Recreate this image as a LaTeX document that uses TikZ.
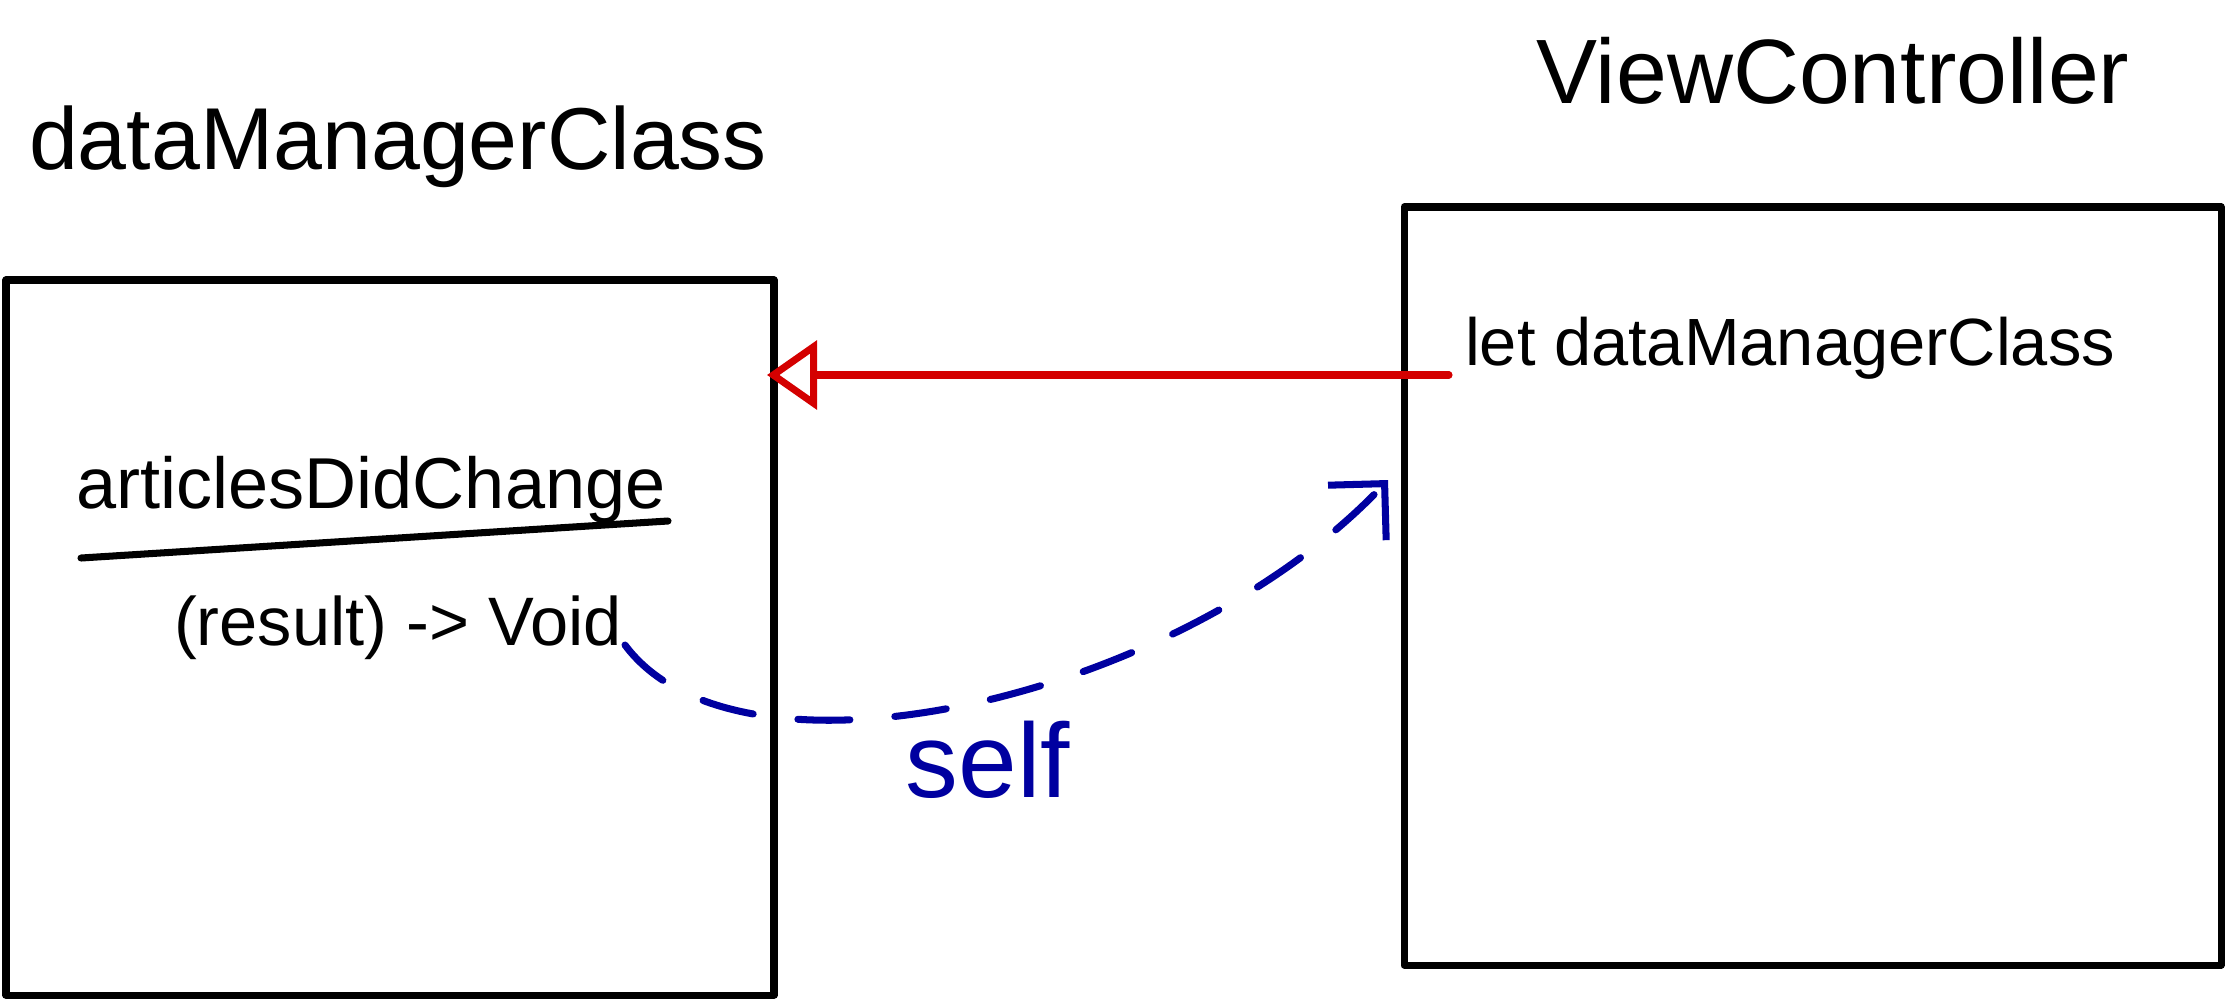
\documentclass[tikz,border=0pt]{standalone}
\usepackage{fontspec}
\setmainfont{Liberation Sans}
\usetikzlibrary{arrows.meta}
\definecolor{penred}{HTML}{D40000}
\definecolor{penblue}{HTML}{0000A0}
\begin{document}
\begin{tikzpicture}[x=0.01cm,y=-0.01cm,
  pen/.style={line width=2pt,line cap=round,line join=round},
  classbox/.style={draw,pen,inner sep=0pt},
  hand/.style={inner sep=0pt,font=\fontsize{#1}{#1}\selectfont},
  hand/.default=20pt]
\useasboundingbox (0,0) rectangle (2228,1000);
\fill[white] (0,0) rectangle (2228,1000);
% boxes
\node[classbox,minimum width=768*0.01cm,minimum height=715*0.01cm] (leftbox) at (390,637.5) {};
\node[classbox,minimum width=817*0.01cm,minimum height=758*0.01cm] (rightbox) at (1812.5,586) {};
% titles
\node[hand=25pt] (title1) at (398,147) {dataManagerClass};
\node[hand=26pt] (title2) at (1833,71) {ViewController};
% texts
\node[hand=19pt] (letline) at (1790,348) {let dataManagerClass};
\node[hand=20.5pt] (method) at (371,490) {articlesDidChange};
\draw[pen] (81,558) -- (668,521);
\node[hand=19.5pt] (sig) at (398,628) {(result) -> Void};
\node[hand=30pt,text=penblue] (selflabel) at (988,760) {self};
% connectors
\coordinate (rs) at (1449,375);
\coordinate (re) at (767,375);
\draw[pen,penred,-{Triangle[open,length=0.5cm,width=0.68cm,line width=2pt]}] (rs) -- (re);
\coordinate (bs) at (625,645);
\coordinate (be) at (1388,480);
\draw[pen,penblue,dash pattern=on 0.52cm off 0.45cm,-{Straight Barb[length=0.4cm,width=0.8cm,line width=2pt]}]
  (bs) .. controls (740,800) and (1180,700) .. (be);
\end{tikzpicture}
\end{document}
